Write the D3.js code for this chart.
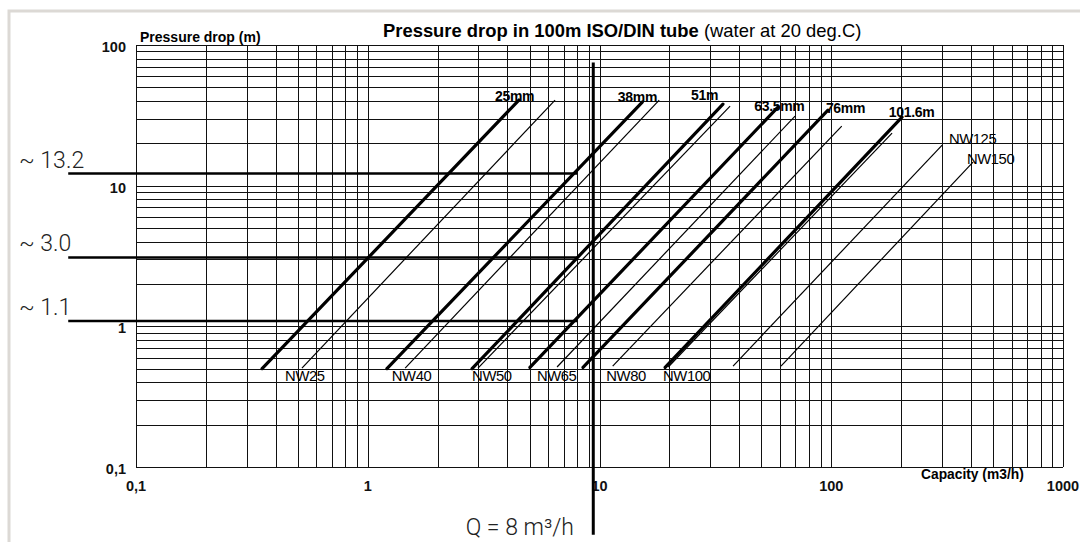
<!DOCTYPE html>
<html>
<head>
<meta charset="utf-8">
<script src="https://cdn.jsdelivr.net/npm/d3@7"></script>
<style>
body { margin: 0; background: #fff; }
svg { display: block; font-family: "Liberation Sans", Arial, sans-serif; }
</style>
</head>
<body>
<svg id="chart" width="1080" height="542"></svg>
<script>
// axis ticks
var xTicks = [0.1, 1, 10, 100, 1000];
var xTickLabels = ["0,1", "1", "10", "100", "1000"];
var yTicks = [0.1, 1, 10, 100];
var yTickLabels = ["0,1", "1", "10", "100"];

// thick curves (mm), [capacity, pressure drop] at both ends
var mmNames = ["25mm", "38mm", "51m", "63.5mm", "76mm", "101.6m"];
var mmStart = [[0.35, 0.50], [1.21, 0.50], [2.82, 0.50], [5.01, 0.51], [8.49, 0.51], [19.2, 0.51]];
var mmEnd = [[4.49, 40.6], [15.3, 39.3], [34.1, 38.0], [58.9, 36.2], [96.8, 34.4], [202, 30.7]];
var mmLabelAt = [[3.54, 40.3], [12.0, 39.6], [24.8, 40.9], [46.5, 33.7], [94.8, 33.1], [177, 31.0]];

// thin curves (NW)
var nwNames = ["NW25", "NW40", "NW50", "NW65", "NW80", "NW100", "NW125", "NW150"];
var nwStart = [[0.52, 0.505], [1.45, 0.505], [2.99, 0.505], [6.56, 0.514], [11.4, 0.522], [19.8, 0.514], [37.7, 0.522], [60.7, 0.522]];
var nwEnd = [[6.43, 40.6], [18.1, 40.6], [36.6, 36.8], [69.8, 31.2], [111, 26.5], [183, 23.6], [301, 19.4], [409, 14.7]];
var nwLabelAt = [[0.44, 0.41], [1.27, 0.41], [2.82, 0.41], [5.37, 0.41], [10.7, 0.41], [18.8, 0.41], [322, 19.8], [385, 14.2]];

// reading annotations
var readLevels = [12.2, 3.09, 1.09];
var readLabels = ["~ 13.2", "~ 3.0", "~ 1.1"];
var readFromQ = 0.051;
var readToQ = 8;
var flowMark = 9.4;
var flowMarkRange = [0.033, 75];
var flowLabel = "Q = 8 m³/h";

var svg = d3.select("#chart");

var x = d3.scaleLog().domain([0.1, 1000]).range([136, 1063]);
var y = d3.scaleLog().domain([0.1, 100]).range([467, 45]);

// light frame around the figure
svg.append("rect")
	.attr("x", 9).attr("y", 11)
	.attr("width", 1100).attr("height", 600)
	.attr("fill", "none")
	.attr("stroke", "#dcd9d5")
	.attr("stroke-width", 3);

// log grid
var grid = svg.append("g")
	.attr("stroke", "#111")
	.attr("stroke-width", 1)
	.attr("shape-rendering", "crispEdges");

grid.selectAll(".vg").data(x.ticks()).enter()
	.append("line")
	.attr("class", "vg")
	.attr("x1", function(d) { return Math.round(x(d)) + 0.5; })
	.attr("x2", function(d) { return Math.round(x(d)) + 0.5; })
	.attr("y1", y(100)).attr("y2", y(0.1));

grid.selectAll(".hg").data(y.ticks()).enter()
	.append("line")
	.attr("class", "hg")
	.attr("y1", function(d) { return Math.round(y(d)) + 0.5; })
	.attr("y2", function(d) { return Math.round(y(d)) + 0.5; })
	.attr("x1", x(0.1)).attr("x2", x(1000));

// tick labels
svg.selectAll(".xl").data(xTicks).enter()
	.append("text")
	.attr("x", function(d) { return x(d); })
	.attr("y", 491)
	.attr("text-anchor", "middle")
	.attr("font-size", 14.5)
	.attr("font-weight", "bold")
	.attr("fill", "#111")
	.text(function(d, i) { return xTickLabels[i]; });

svg.selectAll(".yl").data(yTicks).enter()
	.append("text")
	.attr("x", 126)
	.attr("y", function(d) { return y(d) + 7; })
	.attr("text-anchor", "end")
	.attr("font-size", 14.5)
	.attr("font-weight", "bold")
	.attr("fill", "#111")
	.text(function(d, i) { return yTickLabels[i]; });

// axis titles
svg.append("text")
	.attr("x", 140).attr("y", 42)
	.attr("font-size", 14)
	.attr("font-weight", "bold")
	.text("Pressure drop (m)");

svg.append("text")
	.attr("x", 921).attr("y", 479)
	.attr("font-size", 13.8)
	.attr("font-weight", "bold")
	.text("Capacity (m3/h)");

var title = svg.append("text")
	.attr("x", 383).attr("y", 37)
	.attr("font-size", 18.4);
title.append("tspan").attr("font-weight", "bold").text("Pressure drop in 100m ISO/DIN tube");
title.append("tspan").text(" (water at 20 deg.C)");

// curves
var line = d3.line()
	.x(function(d) { return x(d[0]); })
	.y(function(d) { return y(d[1]); });

svg.selectAll(".nw").data(d3.zip(nwStart, nwEnd)).enter()
	.append("path")
	.attr("class", "nw")
	.attr("d", line)
	.attr("fill", "none")
	.attr("stroke", "#000")
	.attr("stroke-width", 1.2);

svg.selectAll(".mm").data(d3.zip(mmStart, mmEnd)).enter()
	.append("path")
	.attr("class", "mm")
	.attr("d", line)
	.attr("fill", "none")
	.attr("stroke", "#000")
	.attr("stroke-width", 3.2)
	.attr("stroke-linecap", "round");

// curve labels
svg.selectAll(".mml").data(mmLabelAt).enter()
	.append("text")
	.attr("x", function(d) { return x(d[0]); })
	.attr("y", function(d) { return y(d[1]); })
	.attr("font-size", 14)
	.attr("font-weight", "bold")
	.attr("letter-spacing", -0.3)
	.text(function(d, i) { return mmNames[i]; });

svg.selectAll(".nwl").data(nwLabelAt).enter()
	.append("text")
	.attr("x", function(d) { return x(d[0]); })
	.attr("y", function(d) { return y(d[1]); })
	.attr("font-size", 14.8)
	.attr("letter-spacing", -0.4)
	.text(function(d, i) { return nwNames[i]; });

// reading lines
svg.selectAll(".rd").data(readLevels).enter()
	.append("line")
	.attr("class", "rd")
	.attr("x1", x(readFromQ)).attr("x2", x(readToQ))
	.attr("y1", function(d) { return y(d); })
	.attr("y2", function(d) { return y(d); })
	.attr("stroke", "#000")
	.attr("stroke-width", 2.5);

svg.selectAll(".rdl").data(readLevels).enter()
	.append("text")
	.attr("x", 19)
	.attr("y", function(d) { return y(d) - 6; })
	.attr("font-family", "Roboto, 'Liberation Sans', sans-serif")
	.attr("font-weight", 300)
	.attr("font-size", 23)
	.attr("fill", "#222")
	.text(function(d, i) { return readLabels[i]; });

svg.append("line")
	.attr("x1", x(flowMark)).attr("x2", x(flowMark))
	.attr("y1", y(flowMarkRange[0])).attr("y2", y(flowMarkRange[1]))
	.attr("stroke", "#000")
	.attr("stroke-width", 3);

svg.append("text")
	.attr("x", 574).attr("y", 535)
	.attr("text-anchor", "end")
	.attr("font-family", "Roboto, 'Liberation Sans', sans-serif")
	.attr("font-weight", 300)
	.attr("font-size", 23)
	.attr("fill", "#222")
	.text(flowLabel);
</script>
</body>
</html>
